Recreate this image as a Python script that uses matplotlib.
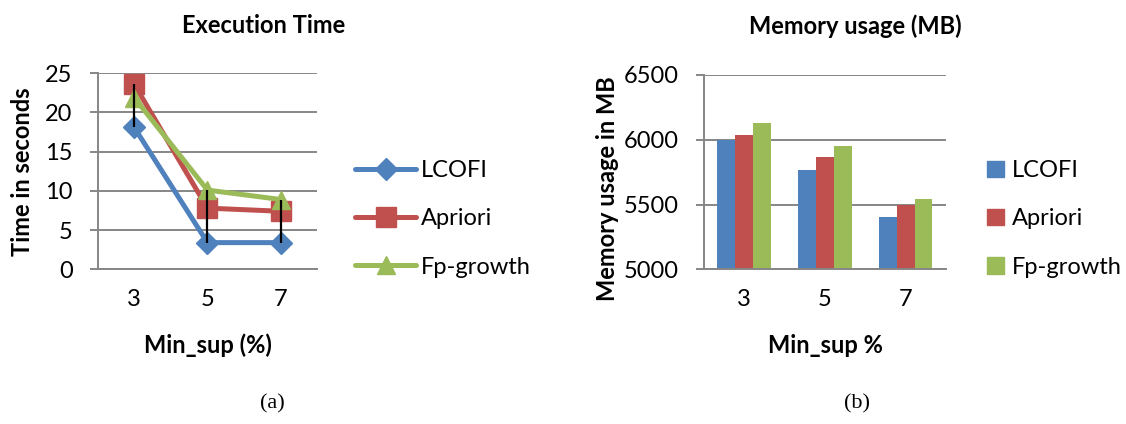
import matplotlib
matplotlib.use("Agg")
from matplotlib import pyplot as plt
from matplotlib.patches import Patch
import numpy as np

min_sup = ['3', '5', '7']
series = ['LCOFI', 'Apriori', 'Fp-growth']

# execution time (seconds)
lcofi_time = [18.1, 3.4, 3.4]
apriori_time = [23.6, 7.8, 7.4]
fpgrowth_time = [21.9, 10.1, 8.9]

# memory usage (MB)
lcofi_mem = [6000, 5765, 5405]
apriori_mem = [6040, 5863, 5500]
fpgrowth_mem = [6130, 5948, 5540]

colors = ['#4F81BD', '#C0504D', '#9BBB59']
grid_c = '#868686'
fs = 17

plt.rcParams['font.family'] = ['Lato', 'DejaVu Sans']

fig = plt.figure(figsize=(11.26, 4.24), dpi=100)
ax1 = fig.add_axes([0.0866, 0.3649, 0.1953, 0.4623])
ax2 = fig.add_axes([0.6252, 0.3649, 0.2149, 0.4583])


def style(ax):
	for s in ['top', 'right']:
		ax.spines[s].set_visible(False)
	for s in ['left', 'bottom']:
		ax.spines[s].set_color(grid_c)
		ax.spines[s].set_linewidth(1.4)
	ax.grid(axis='y', color=grid_c, linewidth=1.4)
	ax.set_axisbelow(True)
	ax.tick_params(axis='y', direction='out', length=6, width=1.4, color=grid_c,
				labelsize=fs, pad=12)
	ax.tick_params(axis='x', length=0, labelsize=fs, pad=14)


# ---- (a) execution time ----
x = np.arange(len(min_sup))
times = [lcofi_time, apriori_time, fpgrowth_time]
markers = ['D', 's', '^']
msizes = [11, 14, 13]
handles = []
for vals, c, m, ms, lab in zip(times, colors, markers, msizes, series):
	h, = ax1.plot(x, vals, color=c, linewidth=3.6, marker=m, markersize=ms,
				markeredgecolor=c, label=lab, solid_capstyle='round')
	handles.append(h)
lo = np.min(times, axis=0)
hi = np.max(times, axis=0)
ax1.vlines(x, lo, hi, color='black', linewidth=1.6, zorder=5)

style(ax1)
ax1.set_xlim(-0.5, 2.5)
ax1.set_ylim(0, 25)
ax1.set_yticks(np.arange(0, 26, 5))
ax1.set_xticks(x)
ax1.set_xticklabels(min_sup)
ax1.set_xlabel('Min_sup (%)', fontsize=fs, fontweight='bold', va='center')
ax1.xaxis.set_label_coords(0.5, -0.386)
ax1.set_ylabel('Time in seconds', fontsize=fs, fontweight='bold', va='center')
ax1.yaxis.set_label_coords(-0.339, 0.5)
ax1.text(0.757, 1.246, 'Execution Time', transform=ax1.transAxes, fontsize=fs,
		fontweight='bold', ha='center', va='center')
fig.legend(handles=handles, loc='center left', bbox_to_anchor=(0.3153, 0.4835), frameon=False,
		fontsize=fs, handlelength=2.6, handletextpad=0.2, labelspacing=1.15, borderpad=0,
		borderaxespad=0)

# ---- (b) memory usage ----
mems = [lcofi_mem, apriori_mem, fpgrowth_mem]
w = 0.222
for i, (vals, c, lab) in enumerate(zip(mems, colors, series)):
	ax2.bar(x + (i - 1) * w, np.array(vals) - 5000, bottom=5000, width=w, color=c, label=lab)

style(ax2)
ax2.set_xlim(-0.5, 2.5)
ax2.set_ylim(5000, 6500)
ax2.set_yticks(np.arange(5000, 6501, 500))
ax2.set_xticks(x)
ax2.set_xticklabels(min_sup)
ax2.set_xlabel('Min_sup %', fontsize=fs, fontweight='bold', va='center')
ax2.xaxis.set_label_coords(0.5, -0.39)
ax2.set_ylabel('Memory usage in MB', fontsize=fs, fontweight='bold', va='center')
ax2.yaxis.set_label_coords(-0.399, 0.413)
ax2.text(0.624, 1.249, 'Memory usage (MB)', transform=ax2.transAxes, fontsize=fs,
		fontweight='bold', ha='center', va='center')
ax2.legend(handles=[Patch(color=c, label=l) for c, l in zip(colors, series)],
		loc='center left', bbox_to_anchor=(0.8766, 0.4835), bbox_transform=fig.transFigure,
		frameon=False, fontsize=fs, handlelength=0.7, handleheight=0.7,
		handletextpad=0.35, labelspacing=1.15, borderpad=0, borderaxespad=0)

fig.text(272.7 / 1126, 1 - 404 / 424, '(a)', fontsize=16, family='Liberation Serif',
		ha='center', va='center')
fig.text(857 / 1126, 1 - 404 / 424, '(b)', fontsize=16, family='Liberation Serif',
		ha='center', va='center')

plt.savefig('out.png', dpi=100)
